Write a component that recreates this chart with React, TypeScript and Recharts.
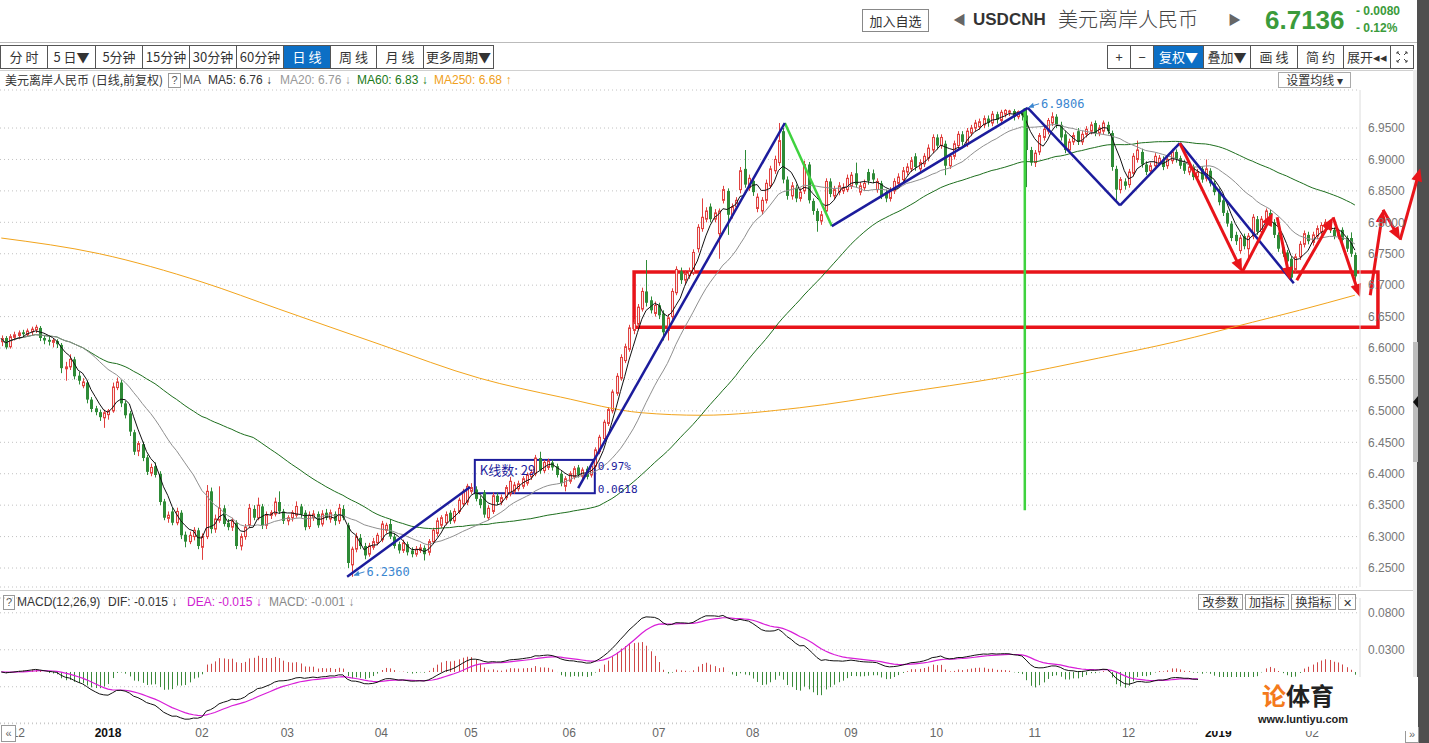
import React from 'react';
import {
  ComposedChart,
  Bar,
  Line,
  XAxis,
  YAxis,
  CartesianGrid,
  ReferenceLine,
  ReferenceArea,
  ReferenceDot,
} from 'recharts';

// daily candles, [open, high, low, close]
type Candle = [number, number, number, number];

// 27 Nov - 29 Dec 2017
const late2017: Candle[] = [
  [6.610, 6.620, 6.603, 6.615], [6.616, 6.619, 6.598, 6.601], [6.602, 6.622, 6.599, 6.618], [6.617, 6.626, 6.612, 6.621],
  [6.620, 6.628, 6.614, 6.624], [6.625, 6.629, 6.617, 6.622], [6.621, 6.631, 6.618, 6.627], [6.626, 6.634, 6.620, 6.630],
  [6.629, 6.637, 6.624, 6.633], [6.632, 6.635, 6.611, 6.616], [6.616, 6.621, 6.606, 6.612], [6.613, 6.618, 6.604, 6.610],
  [6.609, 6.616, 6.601, 6.612], [6.611, 6.614, 6.600, 6.606], [6.605, 6.608, 6.560, 6.568], [6.567, 6.578, 6.548, 6.570],
  [6.570, 6.590, 6.565, 6.582], [6.582, 6.586, 6.550, 6.555], [6.556, 6.562, 6.542, 6.548], [6.540, 6.552, 6.536, 6.546],
  [6.545, 6.548, 6.512, 6.518], [6.518, 6.522, 6.498, 6.503], [6.504, 6.508, 6.493, 6.498], [6.498, 6.502, 6.484, 6.490],
  [6.489, 6.502, 6.473, 6.497],
];
const jan2018: Candle[] = [
  [6.494, 6.503, 6.486, 6.500], [6.500, 6.545, 6.497, 6.538], [6.537, 6.553, 6.533, 6.546], [6.545, 6.549, 6.506, 6.512],
  [6.512, 6.516, 6.488, 6.493], [6.496, 6.500, 6.460, 6.467], [6.466, 6.470, 6.430, 6.435], [6.436, 6.452, 6.428, 6.448],
  [6.447, 6.451, 6.420, 6.425], [6.426, 6.430, 6.398, 6.403], [6.401, 6.416, 6.396, 6.410], [6.412, 6.418, 6.394, 6.398],
  [6.400, 6.404, 6.350, 6.355], [6.356, 6.360, 6.326, 6.330], [6.329, 6.340, 6.322, 6.334], [6.340, 6.346, 6.318, 6.322],
  [6.322, 6.346, 6.318, 6.340], [6.338, 6.342, 6.296, 6.302], [6.303, 6.308, 6.283, 6.292], [6.292, 6.308, 6.288, 6.302],
  [6.300, 6.315, 6.294, 6.310], [6.310, 6.314, 6.280, 6.285],
];
const feb2018: Candle[] = [
  [6.283, 6.305, 6.263, 6.300], [6.300, 6.382, 6.296, 6.372], [6.372, 6.378, 6.305, 6.312], [6.312, 6.335, 6.306, 6.328],
  [6.326, 6.380, 6.322, 6.345], [6.345, 6.350, 6.316, 6.320], [6.322, 6.328, 6.310, 6.315], [6.315, 6.330, 6.309, 6.325],
  [6.322, 6.326, 6.280, 6.285], [6.285, 6.305, 6.278, 6.300], [6.300, 6.320, 6.295, 6.315], [6.318, 6.352, 6.314, 6.345],
  [6.344, 6.350, 6.326, 6.330], [6.330, 6.362, 6.326, 6.350], [6.348, 6.352, 6.312, 6.318], [6.318, 6.340, 6.312, 6.335],
  [6.334, 6.342, 6.328, 6.338], [6.336, 6.362, 6.332, 6.355], [6.355, 6.372, 6.336, 6.340], [6.340, 6.344, 6.320, 6.325],
];
const mar2018: Candle[] = [
  [6.325, 6.334, 6.318, 6.330], [6.330, 6.342, 6.324, 6.338], [6.334, 6.356, 6.330, 6.348], [6.348, 6.352, 6.330, 6.335],
  [6.338, 6.342, 6.310, 6.315], [6.316, 6.340, 6.312, 6.334], [6.330, 6.342, 6.325, 6.336], [6.336, 6.340, 6.314, 6.318],
  [6.320, 6.342, 6.316, 6.336], [6.338, 6.344, 6.326, 6.330], [6.328, 6.343, 6.322, 6.338], [6.336, 6.340, 6.318, 6.325],
  [6.325, 6.352, 6.320, 6.345], [6.344, 6.350, 6.326, 6.330], [6.318, 6.322, 6.250, 6.258], [6.255, 6.284, 6.236, 6.280],
  [6.280, 6.306, 6.275, 6.300], [6.298, 6.304, 6.280, 6.285], [6.285, 6.290, 6.264, 6.270], [6.272, 6.290, 6.268, 6.285],
  [6.283, 6.298, 6.279, 6.292], [6.290, 6.306, 6.286, 6.302],
];
const apr2018: Candle[] = [
  [6.295, 6.325, 6.291, 6.320], [6.310, 6.322, 6.305, 6.318], [6.320, 6.328, 6.296, 6.300], [6.300, 6.305, 6.281, 6.285],
  [6.288, 6.292, 6.273, 6.278], [6.278, 6.295, 6.274, 6.290], [6.288, 6.292, 6.270, 6.275], [6.278, 6.283, 6.267, 6.272],
  [6.272, 6.285, 6.268, 6.280], [6.278, 6.288, 6.274, 6.282], [6.282, 6.286, 6.262, 6.272], [6.275, 6.296, 6.270, 6.292],
  [6.292, 6.314, 6.288, 6.310], [6.305, 6.330, 6.300, 6.325], [6.318, 6.334, 6.314, 6.330], [6.322, 6.340, 6.318, 6.335],
  [6.338, 6.342, 6.320, 6.325], [6.325, 6.345, 6.321, 6.340], [6.340, 6.362, 6.336, 6.358], [6.352, 6.376, 6.348, 6.372],
  [6.355, 6.384, 6.350, 6.380],
];
const may2018: Candle[] = [
  [6.372, 6.385, 6.368, 6.378], [6.375, 6.380, 6.356, 6.360], [6.360, 6.365, 6.345, 6.350], [6.370, 6.374, 6.330, 6.335],
  [6.330, 6.350, 6.326, 6.345], [6.340, 6.370, 6.336, 6.365], [6.365, 6.370, 6.350, 6.355], [6.355, 6.367, 6.350, 6.362],
  [6.362, 6.382, 6.358, 6.378], [6.368, 6.395, 6.364, 6.388], [6.372, 6.387, 6.368, 6.382], [6.376, 6.389, 6.372, 6.384],
  [6.380, 6.396, 6.376, 6.392], [6.385, 6.402, 6.381, 6.398], [6.395, 6.407, 6.390, 6.402], [6.400, 6.430, 6.396, 6.425],
  [6.425, 6.435, 6.400, 6.405], [6.405, 6.422, 6.401, 6.418], [6.410, 6.424, 6.406, 6.420], [6.418, 6.422, 6.405, 6.410],
  [6.412, 6.416, 6.394, 6.398], [6.400, 6.404, 6.380, 6.385], [6.380, 6.396, 6.372, 6.392],
];
const jun2018: Candle[] = [
  [6.388, 6.404, 6.384, 6.400], [6.395, 6.412, 6.391, 6.408], [6.410, 6.414, 6.394, 6.398], [6.396, 6.410, 6.392, 6.406],
  [6.408, 6.412, 6.391, 6.395], [6.398, 6.416, 6.394, 6.412], [6.412, 6.442, 6.408, 6.438], [6.435, 6.462, 6.431, 6.458],
  [6.456, 6.486, 6.452, 6.482], [6.480, 6.506, 6.476, 6.502], [6.500, 6.534, 6.496, 6.530], [6.528, 6.560, 6.524, 6.555],
  [6.552, 6.590, 6.548, 6.585], [6.580, 6.607, 6.576, 6.602], [6.598, 6.637, 6.594, 6.632], [6.628, 6.646, 6.622, 6.640],
  [6.638, 6.670, 6.634, 6.665], [6.662, 6.696, 6.658, 6.690], [6.690, 6.740, 6.666, 6.672], [6.676, 6.682, 6.655, 6.660],
  [6.655, 6.674, 6.650, 6.668],
];
const jul2018: Candle[] = [
  [6.668, 6.672, 6.646, 6.652], [6.655, 6.660, 6.612, 6.625], [6.628, 6.654, 6.612, 6.648], [6.650, 6.695, 6.645, 6.690],
  [6.688, 6.730, 6.684, 6.725], [6.722, 6.728, 6.702, 6.708], [6.708, 6.724, 6.702, 6.718], [6.715, 6.728, 6.710, 6.722],
  [6.720, 6.757, 6.716, 6.752], [6.758, 6.797, 6.752, 6.792], [6.790, 6.838, 6.785, 6.808], [6.805, 6.824, 6.800, 6.818],
  [6.825, 6.830, 6.800, 6.805], [6.805, 6.821, 6.800, 6.815], [6.782, 6.822, 6.742, 6.818], [6.835, 6.858, 6.830, 6.852],
  [6.850, 6.854, 6.780, 6.812], [6.812, 6.830, 6.806, 6.825], [6.825, 6.840, 6.820, 6.835], [6.852, 6.888, 6.846, 6.882],
  [6.885, 6.915, 6.855, 6.860], [6.855, 6.876, 6.850, 6.870],
];
const aug2018: Candle[] = [
  [6.866, 6.872, 6.842, 6.848], [6.822, 6.846, 6.816, 6.840], [6.818, 6.840, 6.812, 6.835], [6.835, 6.868, 6.830, 6.862],
  [6.858, 6.890, 6.854, 6.885], [6.882, 6.906, 6.877, 6.900], [6.895, 6.958, 6.890, 6.930], [6.945, 6.950, 6.862, 6.868],
  [6.868, 6.873, 6.836, 6.842], [6.842, 6.864, 6.836, 6.858], [6.855, 6.860, 6.832, 6.838], [6.838, 6.854, 6.833, 6.848],
  [6.850, 6.898, 6.845, 6.892], [6.892, 6.896, 6.830, 6.835], [6.834, 6.838, 6.812, 6.818], [6.818, 6.822, 6.785, 6.802],
  [6.802, 6.818, 6.796, 6.812], [6.818, 6.870, 6.812, 6.865], [6.865, 6.870, 6.840, 6.845], [6.842, 6.858, 6.837, 6.852],
  [6.848, 6.864, 6.843, 6.858], [6.850, 6.862, 6.845, 6.855], [6.852, 6.876, 6.848, 6.870],
];
const sep2018: Candle[] = [
  [6.858, 6.880, 6.853, 6.875], [6.878, 6.895, 6.855, 6.860], [6.848, 6.864, 6.843, 6.858], [6.855, 6.868, 6.850, 6.862],
  [6.880, 6.885, 6.860, 6.866], [6.878, 6.884, 6.862, 6.868], [6.852, 6.870, 6.847, 6.865], [6.862, 6.866, 6.837, 6.842],
  [6.848, 6.852, 6.832, 6.838], [6.838, 6.856, 6.833, 6.850], [6.850, 6.870, 6.845, 6.865], [6.862, 6.878, 6.857, 6.872],
  [6.868, 6.888, 6.863, 6.882], [6.880, 6.894, 6.875, 6.888], [6.885, 6.904, 6.880, 6.898], [6.905, 6.910, 6.882, 6.888],
  [6.885, 6.900, 6.880, 6.895], [6.893, 6.910, 6.888, 6.905], [6.902, 6.924, 6.897, 6.918], [6.915, 6.940, 6.910, 6.935],
];
const oct2018: Candle[] = [
  [6.935, 6.940, 6.916, 6.922], [6.922, 6.940, 6.917, 6.935], [6.925, 6.930, 6.875, 6.890], [6.890, 6.910, 6.885, 6.905],
  [6.905, 6.930, 6.900, 6.925], [6.922, 6.945, 6.917, 6.940], [6.940, 6.945, 6.922, 6.928], [6.925, 6.950, 6.920, 6.945],
  [6.942, 6.955, 6.937, 6.950], [6.950, 6.963, 6.945, 6.958], [6.952, 6.965, 6.947, 6.960], [6.955, 6.970, 6.950, 6.965],
  [6.965, 6.970, 6.952, 6.958], [6.958, 6.977, 6.953, 6.972], [6.972, 6.976, 6.957, 6.963], [6.962, 6.979, 6.957, 6.975],
  [6.972, 6.980, 6.967, 6.978], [6.975, 6.979, 6.969, 6.977], [6.977, 6.980, 6.962, 6.968], [6.968, 6.978, 6.964, 6.976],
  [6.976, 6.979, 6.962, 6.970], [6.970, 6.9806, 6.856, 6.915], [6.915, 6.920, 6.890, 6.895],
];
const nov2018: Candle[] = [
  [6.895, 6.915, 6.888, 6.910], [6.912, 6.942, 6.907, 6.938], [6.935, 6.953, 6.930, 6.948], [6.945, 6.966, 6.940, 6.962],
  [6.958, 6.975, 6.953, 6.968], [6.968, 6.972, 6.950, 6.955], [6.955, 6.960, 6.930, 6.935], [6.940, 6.945, 6.910, 6.915],
  [6.915, 6.933, 6.910, 6.928], [6.928, 6.943, 6.923, 6.938], [6.945, 6.950, 6.923, 6.928], [6.928, 6.945, 6.923, 6.940],
  [6.940, 6.953, 6.935, 6.948], [6.945, 6.960, 6.940, 6.955], [6.958, 6.962, 6.937, 6.942], [6.942, 6.955, 6.937, 6.950],
  [6.945, 6.962, 6.940, 6.958], [6.955, 6.960, 6.940, 6.945], [6.942, 6.946, 6.882, 6.888], [6.885, 6.890, 6.835, 6.852],
  [6.852, 6.872, 6.846, 6.868], [6.865, 6.870, 6.852, 6.858],
];
const dec2018: Candle[] = [
  [6.860, 6.885, 6.855, 6.880], [6.878, 6.910, 6.873, 6.905], [6.900, 6.930, 6.895, 6.915], [6.912, 6.917, 6.887, 6.892],
  [6.892, 6.897, 6.875, 6.880], [6.882, 6.895, 6.877, 6.890], [6.890, 6.910, 6.885, 6.905], [6.895, 6.907, 6.890, 6.902],
  [6.900, 6.905, 6.883, 6.888], [6.890, 6.905, 6.885, 6.900], [6.898, 6.917, 6.893, 6.912], [6.912, 6.916, 6.895, 6.900],
  [6.902, 6.906, 6.885, 6.890], [6.895, 6.899, 6.877, 6.882], [6.880, 6.893, 6.875, 6.888], [6.888, 6.892, 6.867, 6.872],
  [6.872, 6.885, 6.867, 6.880], [6.885, 6.889, 6.863, 6.868], [6.870, 6.900, 6.865, 6.885], [6.882, 6.886, 6.857, 6.862],
  [6.862, 6.866, 6.843, 6.848],
];
const jan2019: Candle[] = [
  [6.850, 6.854, 6.827, 6.832], [6.835, 6.839, 6.810, 6.815], [6.815, 6.819, 6.793, 6.798], [6.798, 6.802, 6.770, 6.775],
  [6.780, 6.785, 6.764, 6.770], [6.755, 6.780, 6.750, 6.775], [6.778, 6.782, 6.757, 6.762], [6.758, 6.783, 6.740, 6.778],
  [6.778, 6.813, 6.773, 6.808], [6.805, 6.810, 6.780, 6.785], [6.785, 6.810, 6.780, 6.805], [6.800, 6.822, 6.795, 6.818],
  [6.815, 6.820, 6.800, 6.805], [6.800, 6.805, 6.775, 6.780], [6.780, 6.784, 6.753, 6.758], [6.760, 6.764, 6.745, 6.750],
  [6.752, 6.756, 6.733, 6.738], [6.742, 6.746, 6.705, 6.712], [6.725, 6.750, 6.720, 6.745], [6.745, 6.770, 6.740, 6.765],
  [6.765, 6.787, 6.760, 6.782], [6.780, 6.785, 6.765, 6.770],
];
const feb2019: Candle[] = [
  [6.768, 6.785, 6.763, 6.780], [6.778, 6.795, 6.773, 6.790], [6.785, 6.800, 6.780, 6.795], [6.792, 6.805, 6.787, 6.800],
  [6.798, 6.803, 6.783, 6.788], [6.788, 6.792, 6.773, 6.778], [6.778, 6.790, 6.773, 6.785], [6.788, 6.792, 6.767, 6.772],
  [6.775, 6.779, 6.753, 6.758], [6.775, 6.784, 6.745, 6.750], [6.748, 6.752, 6.705, 6.714],
];

// first trading day of each month, and its label under the MACD panel
const monthStarts = [4, 25, 47, 67, 89, 110, 133, 154, 176, 199, 219, 242, 264, 285, 307];
const monthLabels = ['12', '2018', '02', '03', '04', '05', '06', '07', '08', '09', '10', '11', '12', '2019', '02'];

const priceTicks = [6.25, 6.3, 6.35, 6.4, 6.45, 6.5, 6.55, 6.6, 6.65, 6.7, 6.75, 6.8, 6.85, 6.9, 6.95];
const macdTicks = [0.08, 0.03, -0.02, -0.07];

// MA250 (needs a year of history we don't have)
const ma250Marks: [number, number][] = [
  [0, 6.775], [23, 6.75], [47, 6.705], [65, 6.662], [89, 6.605], [112, 6.552], [131, 6.522], [150, 6.497],
  [164, 6.493], [187, 6.505], [210, 6.528], [234, 6.553], [257, 6.584], [275, 6.61], [293, 6.641], [304, 6.66], [317, 6.684],
];

// hand drawn trend lines: [x1, y1, x2, y2] in (bar index, price)
const blueLegs = [
  [81.0, 6.236, 109.8, 6.379], [135.1, 6.377, 183.5, 6.958], [194.5, 6.794, 240.4, 6.982],
  [240.4, 6.982, 262.0, 6.827], [262.0, 6.827, 276.0, 6.926], [276.0, 6.926, 302.7, 6.703],
];
const greenLegs = [[183.5, 6.958, 194.5, 6.794], [239.7, 6.982, 239.7, 6.342]];
const redArrows = [
  [276.0, 6.926, 290.6, 6.721], [290.6, 6.721, 297.8, 6.815], [298.8, 6.808, 301.8, 6.708],
  [303.4, 6.708, 311.9, 6.808], [311.9, 6.808, 318.2, 6.681], [320.6, 6.684, 323.6, 6.82],
  [323.6, 6.82, 327.6, 6.772], [327.6, 6.772, 332.3, 6.886],
];
const supportBox = { x1: 148.2, x2: 322.4, y1: 6.633, y2: 6.721 };
const countBox = { x1: 110.9, x2: 139.0, y1: 6.369, y2: 6.422 };

const RED = '#e0413f';
const GREEN = '#2e8b37';
const NAVY = '#1c1c9c';
const ARROW = '#e8141a';
const sans = "'Liberation Sans', 'Noto Sans CJK SC', Arial, sans-serif";
const mono = "'DejaVu Sans Mono', 'Liberation Mono', monospace";

const candles = [
  ...late2017, ...jan2018, ...feb2018, ...mar2018, ...apr2018, ...may2018, ...jun2018, ...jul2018,
  ...aug2018, ...sep2018, ...oct2018, ...nov2018, ...dec2018, ...jan2019, ...feb2019,
];
const closes = candles.map((c) => c[3]);
const avg = (i: number, n: number) => {
  const s = Math.max(0, i - n + 1);
  let t = 0;
  for (let j = s; j <= i; j++) t += closes[j];
  return t / (i - s + 1);
};

const rows = candles.map((c, i) => ({
  i,
  open: c[0],
  high: c[1],
  low: c[2],
  close: c[3],
  ma5: avg(i, 5),
  ma20: avg(i, 20),
  ma60: avg(i, 60),
  ma250: null as number | null,
  dif: 0,
  dea: 0,
  macd: 0,
}));
ma250Marks.forEach(([i, v]) => {
  rows[i].ma250 = v;
});
let e12 = closes[0];
let e26 = closes[0];
let deaAcc = 0;
rows.forEach((r) => {
  e12 = (2 * r.close + 11 * e12) / 13;
  e26 = (2 * r.close + 25 * e26) / 27;
  const dif = e12 - e26;
  deaAcc = (2 * dif + 8 * deaAcc) / 10;
  r.dif = dif;
  r.dea = deaAcc;
  r.macd = 2 * (dif - deaAcc);
});

const xDomain: [number, number] = [-0.3, 318.2];

function CandleShape(p: any) {
  const { x, y, width, height, payload } = p;
  if (!payload) return null;
  const { open, high, low, close } = payload;
  const top = Math.min(y, y + height);
  const hh = Math.abs(height);
  const k = high > low ? hh / (high - low) : 0;
  const py = (v: number) => top + (high - v) * k;
  const cx = Math.round(x + width / 2) + 0.5;
  const up = close >= open;
  const col = up ? RED : GREEN;
  const bt = py(Math.max(open, close));
  const bh = Math.max(1, py(Math.min(open, close)) - bt);
  if (up) {
    return (
      <g>
        <line x1={cx} x2={cx} y1={top} y2={bt} stroke={col} />
        <line x1={cx} x2={cx} y1={bt + bh} y2={top + hh} stroke={col} />
        <rect x={cx - 1} y={bt} width={2} height={bh} fill="#fbeaea" stroke={col} strokeWidth={1} />
      </g>
    );
  }
  return (
    <g>
      <line x1={cx} x2={cx} y1={top} y2={top + hh} stroke={col} />
      <rect x={cx - 1.5} y={bt} width={3} height={bh} fill={col} />
    </g>
  );
}

function HistShape(p: any) {
  const { x, y, width, height, payload } = p;
  if (!payload) return null;
  const top = Math.min(y, y + height);
  const cx = Math.round(x + width / 2);
  return <rect x={cx} y={top} width={1} height={Math.abs(height)} fill={payload.macd >= 0 ? '#d04848' : '#3a8a3a'} />;
}

const arrowShape = (p: any) => {
  const { x1, y1, x2, y2 } = p;
  const a = Math.atan2(y2 - y1, x2 - x1);
  const L = 13;
  const H = 5.5;
  const bx = x2 - L * Math.cos(a);
  const by = y2 - L * Math.sin(a);
  const pts = `${x2},${y2} ${bx + H * Math.sin(a)},${by - H * Math.cos(a)} ${bx - H * Math.sin(a)},${by + H * Math.cos(a)}`;
  return (
    <g>
      <line x1={x1} y1={y1} x2={bx + 2 * Math.cos(a)} y2={by + 2 * Math.sin(a)} stroke={ARROW} strokeWidth={3} />
      <polygon points={pts} fill={ARROW} />
    </g>
  );
};

const priceTag = (label: string) => (p: any) => {
  const { cx, cy } = p;
  return (
    <g>
      <line x1={cx + 3} y1={cy - 2} x2={cx + 13} y2={cy - 5} stroke="#3a86d0" strokeWidth={1} />
      <polygon points={`${cx + 2},${cy - 1} ${cx + 7},${cy - 6} ${cx + 8},${cy - 1}`} fill="#3a86d0" />
      <text x={cx + 15} y={cy - 1} fontSize={12} fill="#3a86d0" fontFamily={mono}>
        {label}
      </text>
    </g>
  );
};

const countFrame = (p: any) => <rect x={p.x} y={p.y} width={p.width} height={p.height} fill="none" stroke={NAVY} strokeWidth={2} />;

// labels of the bar-count box, anchored at its top-left corner (drawn above the candles)
const countLabels = (p: any) => {
  const { cx, cy } = p;
  const w = (countBox.x2 - countBox.x1) * 4.27;
  return (
    <g>
      <text x={cx + 5} y={cy + 15} fontSize={13} fill={NAVY} fontFamily="'Noto Sans CJK SC', sans-serif">
        K线数: 29
      </text>
      <text x={cx + w + 3} y={cy + 10} fontSize={11} fill={NAVY} fontFamily={mono}>
        0.97%
      </text>
      <text x={cx + w + 3} y={cy + 33} fontSize={11} fill={NAVY} fontFamily={mono}>
        0.0618
      </text>
    </g>
  );
};

function MonthTick(p: any) {
  const k = monthStarts.indexOf(p.payload.value);
  const label = monthLabels[k] ?? '';
  const year = label.length === 4;
  return (
    <text x={p.x} y={p.y + 6} textAnchor="middle" fontSize={12} fontFamily={sans} fill={year ? '#111' : '#666'} fontWeight={year ? 'bold' : 'normal'}>
      {label}
    </text>
  );
}

function Btn({ x, x2, y, h, label, active, size = 13, border = '#555' }: any) {
  return (
    <div
      style={{
        position: 'absolute',
        left: x,
        top: y,
        width: x2 - x + 1,
        height: h,
        boxSizing: 'border-box',
        border: `1px solid ${border}`,
        background: active ? '#0c6fc5' : '#fff',
        color: active ? '#fff' : '#333',
        fontSize: size,
        lineHeight: `${h - 2}px`,
        textAlign: 'center',
        whiteSpace: 'nowrap',
        fontFamily: "'Noto Sans CJK SC', sans-serif",
      }}
    >
      {label}
    </div>
  );
}

const leftTabs: [string, number, number][] = [
  ['分 时', 0, 47], ['5 日▼', 47, 95], ['5分钟', 95, 142], ['15分钟', 142, 189], ['30分钟', 189, 236],
  ['60分钟', 236, 283], ['日 线', 283, 330], ['周 线', 330, 376], ['月 线', 376, 423], ['更多周期▼', 423, 493],
];
const rightTabs: [string, number, number][] = [
  ['+', 1107, 1130], ['−', 1130, 1153], ['复权▼', 1153, 1203], ['叠加▼', 1203, 1250],
  ['画 线', 1250, 1297], ['简 约', 1297, 1343], ['展开◂◂', 1343, 1390], ['', 1390, 1413],
];

const txt = (x: number, y: number, s: string, color: string, size = 12, extra: any = {}) => (
  <span style={{ position: 'absolute', left: x, top: y, fontSize: size, color, whiteSpace: 'nowrap', lineHeight: `${size + 4}px`, fontFamily: sans, ...extra }}>
    {s}
  </span>
);

export default function App() {
  return (
    <div style={{ position: 'absolute', left: 0, top: 0, width: 1429, height: 743, overflow: 'hidden', background: '#fff', fontFamily: sans }}>
      {/* right scroll strip */}
      <div style={{ position: 'absolute', left: 1417, top: 0, width: 12, height: 743, background: '#4f4f4f' }} />
      <div style={{ position: 'absolute', left: 1413, top: 70, width: 4, height: 673, background: '#ececec' }} />
      <div style={{ position: 'absolute', left: 1413, top: 342, width: 5, height: 120, background: '#bdbdbd' }} />
      <div style={{ position: 'absolute', left: 1413, top: 396, width: 0, height: 0, borderTop: '6px solid transparent', borderBottom: '6px solid transparent', borderRight: '5px solid #111' }} />

      {/* header */}
      <div style={{ position: 'absolute', left: 0, top: 42, width: 1417, height: 1, background: '#bbb' }} />
      <Btn x={862} x2={928} y={9} h={23} label="加入自选" border="#888" size={13} />
      {txt(953, 9, '◀', '#666', 13, { lineHeight: '22px' })}
      {txt(973, 8, 'USDCNH', '#333', 17, { fontWeight: 'bold', lineHeight: '24px' })}
      {txt(1058, 5, '美元离岸人民币', '#444', 20, { lineHeight: '28px', fontFamily: "'Noto Sans CJK SC', sans-serif", fontWeight: 300 })}
      {txt(1228, 9, '▶', '#666', 13, { lineHeight: '22px' })}
      {txt(1265, 4, '6.7136', '#3b9b3b', 26, { fontWeight: 'bold', lineHeight: '32px' })}
      {txt(1356, 3, '- 0.0080', '#3b9b3b', 12, { fontWeight: 'bold' })}
      {txt(1356, 20, '- 0.12%', '#3b9b3b', 12, { fontWeight: 'bold' })}

      {/* period toolbar */}
      {leftTabs.map(([l, a, b]) => (
        <Btn key={l + a} x={a} x2={b} y={45} h={24} label={l} active={l === '日 线'} />
      ))}
      {rightTabs.map(([l, a, b]) => (
        <Btn key={l + a} x={a} x2={b} y={45} h={24} label={l} active={l === '复权▼'} />
      ))}
      <svg style={{ position: 'absolute', left: 1394, top: 50 }} width={16} height={14}>
        <path d="M3 2 L6 5 M3 2 L3 4 M3 2 L5 2 M13 2 L10 5 M13 2 L13 4 M13 2 L11 2 M3 12 L6 9 M3 12 L3 10 M3 12 L5 12 M13 12 L10 9 M13 12 L13 10 M13 12 L11 12" stroke="#444" strokeWidth={1} fill="none" />
      </svg>
      <div style={{ position: 'absolute', left: 0, top: 70, width: 1413, height: 1, background: '#d0d0d0' }} />

      {/* MA legend */}
      {txt(5, 72, '美元离岸人民币 (日线,前复权)', '#333', 12, { fontFamily: "'Noto Sans CJK SC', sans-serif" })}
      <div style={{ position: 'absolute', left: 168, top: 73, width: 11, height: 13, border: '1px solid #999', fontSize: 11, lineHeight: '13px', textAlign: 'center', color: '#555' }}>?</div>
      {txt(183, 72, 'MA', '#555')}
      {txt(208, 72, 'MA5: 6.76 ↓', '#333')}
      {txt(280, 72, 'MA20: 6.76 ↓', '#999')}
      {txt(357, 72, 'MA60: 6.83 ↓', '#1a7a1a')}
      {txt(434, 72, 'MA250: 6.68 ↑', '#f0a020')}
      <Btn x={1278} x2={1350} y={72} h={16} label="设置均线 ▾" border="#aaa" size={12} />

      {/* price panel */}
      <div style={{ position: 'absolute', left: 0, top: 88 }}>
        <ComposedChart width={1429} height={500} data={rows} margin={{ top: 2, right: 0, bottom: 1, left: 0 }}>
          <CartesianGrid horizontal vertical={false} stroke="#c2c2c2" strokeDasharray="1 3" />
          <XAxis dataKey="i" type="number" domain={xDomain} allowDataOverflow hide />
          <YAxis
            orientation="right"
            width={69}
            domain={[6.2198, 7.0105]}
            allowDataOverflow
            ticks={priceTicks}
            tickFormatter={(v: number) => v.toFixed(4)}
            tick={{ fill: '#777', fontSize: 12, fontFamily: sans }}
            tickLine={false}
            axisLine={{ stroke: '#dcdcdc' }}
          />
          <Line dataKey="ma250" type="monotone" stroke="#f2a41c" strokeWidth={1} dot={false} connectNulls isAnimationActive={false} />
          <Line dataKey="ma60" type="linear" stroke="#1d6e1d" strokeWidth={1} dot={false} isAnimationActive={false} />
          <Line dataKey="ma20" type="linear" stroke="#8f8f8f" strokeWidth={1} dot={false} isAnimationActive={false} />
          <Bar dataKey={(r: any) => [r.low, r.high]} barSize={3} shape={(p: any) => <CandleShape {...p} />} isAnimationActive={false} />
          <Line dataKey="ma5" type="linear" stroke="#111" strokeWidth={1} dot={false} isAnimationActive={false} />
          <ReferenceArea
            x1={supportBox.x1}
            x2={supportBox.x2}
            y1={supportBox.y1}
            y2={supportBox.y2}
            ifOverflow="visible"
            fill="none"
            stroke={ARROW}
            strokeWidth={3.5}
            fillOpacity={0}
          />
          <ReferenceArea x1={countBox.x1} x2={countBox.x2} y1={countBox.y1} y2={countBox.y2} ifOverflow="visible" shape={countFrame} />
          {greenLegs.map((s, k) => (
            <ReferenceLine key={'g' + k} segment={[{ x: s[0], y: s[1] }, { x: s[2], y: s[3] }]} stroke="#3fd23f" strokeWidth={2.5} ifOverflow="visible" />
          ))}
          {blueLegs.map((s, k) => (
            <ReferenceLine key={'b' + k} segment={[{ x: s[0], y: s[1] }, { x: s[2], y: s[3] }]} stroke={NAVY} strokeWidth={2.5} ifOverflow="visible" />
          ))}
          {redArrows.map((s, k) => (
            <ReferenceLine key={'r' + k} segment={[{ x: s[0], y: s[1] }, { x: s[2], y: s[3] }]} ifOverflow="visible" shape={arrowShape} />
          ))}
          <ReferenceDot x={countBox.x1} y={countBox.y2} ifOverflow="visible" shape={countLabels} />
          <ReferenceDot x={82} y={6.236} ifOverflow="visible" shape={priceTag('6.2360')} />
          <ReferenceDot x={240} y={6.9806} ifOverflow="visible" shape={priceTag('6.9806')} />
        </ComposedChart>
      </div>

      {/* MACD panel */}
      <div style={{ position: 'absolute', left: 0, top: 590, width: 1413, height: 1, background: '#cfcfcf' }} />
      <div style={{ position: 'absolute', left: 3, top: 595, width: 10, height: 13, border: '1px solid #999', fontSize: 11, lineHeight: '13px', textAlign: 'center', color: '#555' }}>?</div>
      {txt(17, 594, 'MACD(12,26,9)', '#333')}
      {txt(108, 594, 'DIF: -0.015 ↓', '#333')}
      {txt(187, 594, 'DEA: -0.015 ↓', '#d020d0')}
      {txt(269, 594, 'MACD: -0.001 ↓', '#888')}
      <Btn x={1198} x2={1242} y={594} h={16} label="改参数" border="#999" size={12} />
      <Btn x={1245} x2={1288} y={594} h={16} label="加指标" border="#999" size={12} />
      <Btn x={1291} x2={1335} y={594} h={16} label="换指标" border="#999" size={12} />
      <Btn x={1338} x2={1355} y={594} h={16} label="✕" border="#999" size={11} />

      <div style={{ position: 'absolute', left: 0, top: 596 }}>
        <ComposedChart width={1429} height={147} data={rows} margin={{ top: 2, right: 0, bottom: 0, left: 0 }}>
          <CartesianGrid horizontal vertical={false} stroke="#c2c2c2" strokeDasharray="1 3" />
          <XAxis
            dataKey="i"
            type="number"
            domain={xDomain}
            allowDataOverflow
            ticks={monthStarts}
            interval={0}
            tick={(p: any) => <MonthTick {...p} />}
            tickLine={false}
            axisLine={false}
            height={20}
          />
          <YAxis
            orientation="right"
            width={69}
            domain={[-0.069, 0.1]}
            allowDataOverflow
            ticks={macdTicks}
            tickFormatter={(v: number) => v.toFixed(4)}
            tick={{ fill: '#777', fontSize: 12, fontFamily: sans }}
            tickLine={false}
            axisLine={{ stroke: '#dcdcdc' }}
          />
          <Bar dataKey="macd" barSize={1} shape={(p: any) => <HistShape {...p} />} isAnimationActive={false} />
          <Line dataKey="dea" type="linear" stroke="#d81ed8" strokeWidth={1.2} dot={false} isAnimationActive={false} />
          <Line dataKey="dif" type="linear" stroke="#111" strokeWidth={1} dot={false} isAnimationActive={false} />
        </ComposedChart>
      </div>

      {/* scroll buttons */}
      <div style={{ position: 'absolute', left: 1, top: 725, width: 13, height: 15, background: '#fff', border: '1px solid #999', fontSize: 11, lineHeight: '14px', textAlign: 'center', color: '#666' }}>«</div>
      <div style={{ position: 'absolute', left: 1405, top: 727, width: 12, height: 14, background: '#fff', border: '1px solid #999', fontSize: 11, lineHeight: '13px', textAlign: 'center', color: '#666' }}>»</div>

      {/* site watermark */}
      <div style={{ position: 'absolute', left: 1198, top: 677, width: 220, height: 54, background: '#fff' }}>
        <div style={{ position: 'absolute', left: 64, top: 4, fontSize: 24, lineHeight: '27px', fontWeight: 'bold', fontFamily: "'Noto Sans CJK SC', sans-serif", whiteSpace: 'nowrap' }}>
          <span style={{ color: '#f47a1c' }}>论</span>
          <span style={{ color: '#222' }}>体育</span>
        </div>
        <div style={{ position: 'absolute', left: 60, top: 36, fontSize: 11, lineHeight: '13px', fontWeight: 'bold', color: '#222', fontFamily: sans }}>www.luntiyu.com</div>
      </div>
    </div>
  );
}
